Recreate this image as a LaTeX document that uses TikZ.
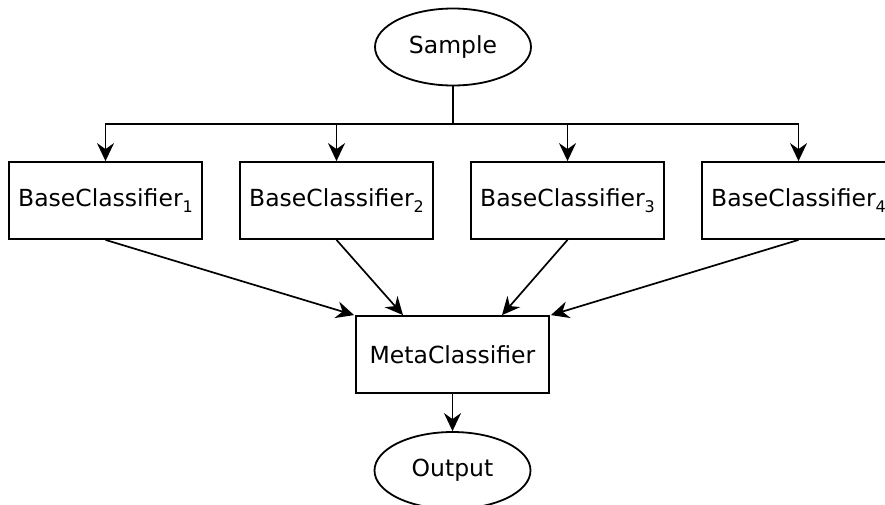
\documentclass[tikz,border=0pt]{standalone}
\usepackage{fontspec}
\setmainfont{DejaVu Sans}
\usetikzlibrary{shapes.geometric,arrows.meta}
\tikzset{
  base/.style={draw, line width=1.8pt, inner sep=0pt, font=\fontsize{23.5}{27}\selectfont},
  box/.style={base, rectangle, minimum width=193pt, minimum height=77pt},
  oval/.style={base, ellipse, minimum width=156pt, minimum height=77pt},
  wire/.style={line width=1.7pt},
  link/.style={wire, -{Stealth[length=18pt,width=17pt,inset=6pt]}},
}
\newcommand{\lowidx}[1]{\raisebox{-6.5pt}{\fontsize{16}{16}\selectfont #1}}
\begin{document}
\begin{tikzpicture}[x=1pt,y=-1pt]
  \useasboundingbox (0,0) rectangle (885,504);
  \clip (0,0) rectangle (885,504);

  \node[oval] (sample) at (453,47) {Sample};

  \node[box] (b1) at (105.5,200.5) {BaseClassifier\lowidx{1}};
  \node[box] (b2) at (336.5,200.5) {BaseClassifier\lowidx{2}};
  \node[box] (b3) at (567.5,200.5) {BaseClassifier\lowidx{3}};
  \node[box] (b4) at (798.5,200.5) {BaseClassifier\lowidx{4}};

  \node[box] (meta) at (452.5,354.5) {MetaClassifier};
  \node[oval] (out) at (452.5,470.5) {Output};

  % fan-out from the sample to every base classifier
  \coordinate (split) at (453,124);
  \draw[wire] (sample.south) -- (split);
  \foreach \b in {b1,b2,b3,b4}
    \draw[link] (split) -| (\b.north);

  % base classifier outputs feed the meta classifier
  \coordinate (m1) at ([xshift=-1pt]meta.north west);
  \coordinate (m2) at ([xshift=-49.5pt]meta.north);
  \coordinate (m3) at ([xshift=49.5pt]meta.north);
  \coordinate (m4) at ([xshift=1pt]meta.north east);
  \draw[link] (b1.south) -- (m1);
  \draw[link] (b2.south) -- (m2);
  \draw[link] (b3.south) -- (m3);
  \draw[link] (b4.south) -- (m4);

  \draw[link] (meta.south) -- (out.north);
\end{tikzpicture}
\end{document}
